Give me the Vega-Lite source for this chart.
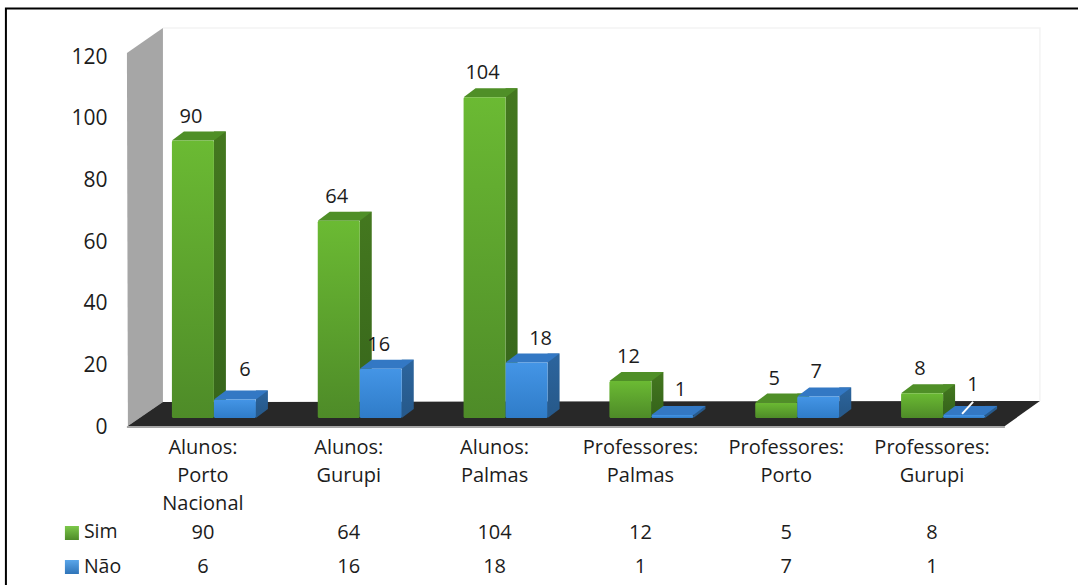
{"$schema":"https://vega.github.io/schema/vega-lite/v6.json","width":875,"height":370,"autosize":{"type":"none"},"padding":{"left":130,"top":55,"right":73,"bottom":160},"background":"#ffffff","config":{"view":{"stroke":null},"text":{"font":"Open Sans","fontSize":20,"color":"#1c1c1c"}},
"datasets":{"d":[
{"categoria":"Alunos:|Porto|Nacional","serie":"Sim","valor":90},{"categoria":"Alunos:|Porto|Nacional","serie":"Não","valor":6},
{"categoria":"Alunos:|Gurupi","serie":"Sim","valor":64},{"categoria":"Alunos:|Gurupi","serie":"Não","valor":16},
{"categoria":"Alunos:|Palmas","serie":"Sim","valor":104},{"categoria":"Alunos:|Palmas","serie":"Não","valor":18},
{"categoria":"Professores:|Palmas","serie":"Sim","valor":12},{"categoria":"Professores:|Palmas","serie":"Não","valor":1},
{"categoria":"Professores:|Porto","serie":"Sim","valor":5},{"categoria":"Professores:|Porto","serie":"Não","valor":7},
{"categoria":"Professores:|Gurupi","serie":"Sim","valor":8},{"categoria":"Professores:|Gurupi","serie":"Não","valor":1}]},
"data":{"name":"d"},
"encoding":{"x":{"field":"categoria","type":"nominal","sort":null,"scale":{"paddingInner":0,"paddingOuter":0},"title":null,"axis":{"labelExpr":"split(datum.label,'|')","labelAngle":0,"labelFont":"Open Sans","labelFontSize":20,"labelColor":"#1c1c1c","labelLineHeight":28,"labelPadding":12,"domain":false,"ticks":false,"labelLimit":0}},
"y":{"field":"valor","type":"quantitative","scale":{"domain":[0,120],"nice":false},"title":null,"axis":{"values":[0,20,40,60,80,100,120],"grid":false,"domain":false,"ticks":false,"labelFont":"Open Sans","labelFontSize":21,"labelColor":"#1c1c1c","labelPadding":23,"labelOffset":2}}},
"layer":[
{"transform":[{"filter":"datum.categoria=='Alunos:|Porto|Nacional' && datum.serie=='Sim'"}],"encoding":{"y":{"datum":0}},"layer":[
{"mark":{"type":"point","filled":true,"opacity":1,"size":4,"strokeWidth":0,"fill":"#a6a6a6","shape":"M-76 -372 L-40 -397 L-40 -23 L-75 1 Z"}},
{"mark":{"type":"point","filled":false,"opacity":1,"size":4,"strokeWidth":1.5,"stroke":"#f3f3f3","shape":"M-40 -397 L837 -397 L837 -24"}},
{"mark":{"type":"point","filled":true,"opacity":1,"size":4,"strokeWidth":0,"fill":"#282828","shape":"M-75 1 L-40 -23 L837 -24 L802 1 Z"}},
{"mark":{"type":"point","filled":false,"opacity":1,"size":4,"strokeWidth":2,"stroke":"#a6a6a6","shape":"M-76 2 L802 2"}},
{"mark":{"type":"point","filled":false,"opacity":1,"size":4,"strokeWidth":2,"stroke":"#000000","shape":"M-197 165 L-197 -416.5 L880 -416.5"}}
]},
{"transform":[{"filter":"datum.serie=='Sim'"}],"layer":[
{"mark":{"type":"bar","size":12,"xOffset":17,"yOffset":-16,"y2Offset":-16,"color":{"gradient":"linear","x1":0,"x2":0,"y1":0,"y2":1,"stops":[{"offset":0,"color":"#44781f"},{"offset":1,"color":"#37661b"}]}},"encoding":{"y2":{"datum":0}}},
{"mark":{"type":"point","filled":true,"opacity":1,"size":4,"strokeWidth":0,"fill":"#37661b","yOffset":-7,"shape":"M11 0 L23 -9 L11 -9 Z"},"encoding":{"y":{"datum":0}}},
{"mark":{"type":"point","filled":true,"opacity":1,"size":4,"strokeWidth":0,"fill":"#4f8f27","yOffset":-7,"shape":"M-31 0 L-19 -9 L23 -9 L11 0 Z"}},
{"mark":{"type":"bar","size":42,"xOffset":-10,"yOffset":-7,"y2Offset":-7,"cornerRadius":1.5,"color":{"gradient":"linear","x1":0,"x2":0,"y1":0,"y2":1,"stops":[{"offset":0,"color":"#6bba33"},{"offset":1,"color":"#4e8b28"}]}},"encoding":{"y2":{"datum":0}}}
]},
{"transform":[{"filter":"datum.serie=='Não'"}],"layer":[
{"mark":{"type":"bar","size":12,"xOffset":59,"yOffset":-16,"y2Offset":-16,"color":{"gradient":"linear","x1":0,"x2":0,"y1":0,"y2":1,"stops":[{"offset":0,"color":"#2c659e"},{"offset":1,"color":"#275a8c"}]}},"encoding":{"y2":{"datum":0}}},
{"mark":{"type":"point","filled":true,"opacity":1,"size":4,"strokeWidth":0,"fill":"#275a8c","yOffset":-7,"shape":"M53 0 L65 -9 L53 -9 Z"},"encoding":{"y":{"datum":0}}},
{"mark":{"type":"point","filled":true,"opacity":1,"size":4,"strokeWidth":0,"fill":"#3378c4","yOffset":-7,"shape":"M11 0 L23 -9 L65 -9 L53 0 Z"}},
{"mark":{"type":"bar","size":42,"xOffset":32,"yOffset":-7,"y2Offset":-7,"cornerRadius":1.5,"color":{"gradient":"linear","x1":0,"x2":0,"y1":0,"y2":1,"stops":[{"offset":0,"color":"#4495e6"},{"offset":1,"color":"#2f7cc8"}]}},"encoding":{"y2":{"datum":0}}}
]},
{"transform":[{"filter":"datum.categoria=='Professores:|Gurupi' && datum.serie=='Não'"}],"mark":{"type":"point","filled":false,"opacity":1,"size":4,"strokeWidth":2,"stroke":"#ffffff","shape":"M30 -8 L41 -20"}},
{"transform":[{"filter":"datum.serie=='Sim'"}],"mark":{"type":"text","xOffset":-12,"yOffset":-31},"encoding":{"text":{"field":"valor","type":"quantitative"}}},
{"transform":[{"filter":"datum.serie=='Não' && (datum.valor==16 || datum.valor==7)"}],"mark":{"type":"text","xOffset":30,"yOffset":-31},"encoding":{"text":{"field":"valor","type":"quantitative"}}},
{"transform":[{"filter":"datum.serie=='Não' && datum.valor==18"}],"mark":{"type":"text","xOffset":46,"yOffset":-31},"encoding":{"text":{"field":"valor","type":"quantitative"}}},
{"transform":[{"filter":"datum.categoria=='Professores:|Palmas' && datum.serie=='Não'"}],"mark":{"type":"text","xOffset":40,"yOffset":-32},"encoding":{"text":{"field":"valor","type":"quantitative"}}},
{"transform":[{"filter":"datum.serie=='Não' && datum.valor==6"}],"mark":{"type":"text","xOffset":42,"yOffset":-37},"encoding":{"text":{"field":"valor","type":"quantitative"}}},
{"transform":[{"filter":"datum.categoria=='Professores:|Gurupi' && datum.serie=='Não'"}],"mark":{"type":"text","xOffset":41,"yOffset":-37},"encoding":{"text":{"field":"valor","type":"quantitative"}}},
{"transform":[{"filter":"datum.serie=='Sim'"}],"mark":{"type":"text","yOffset":108},"encoding":{"y":{"datum":0},"text":{"field":"valor","type":"quantitative"}}},
{"transform":[{"filter":"datum.serie=='Não'"}],"mark":{"type":"text","yOffset":142},"encoding":{"y":{"datum":0},"text":{"field":"valor","type":"quantitative"}}},
{"transform":[{"filter":"datum.categoria=='Alunos:|Porto|Nacional' && datum.serie=='Sim'"}],"encoding":{"y":{"datum":0}},"layer":[
{"mark":{"type":"text","align":"left","xOffset":-119,"yOffset":107,"fontSize":19.5},"encoding":{"text":{"field":"serie"}}},
{"mark":{"type":"point","shape":"square","filled":true,"opacity":1,"size":196,"strokeWidth":0,"xOffset":-131,"yOffset":108,"fill":{"gradient":"linear","x1":0,"x2":0,"y1":0,"y2":1,"stops":[{"offset":0,"color":"#7cc84a"},{"offset":1,"color":"#4e8b28"}]}}}
]},
{"transform":[{"filter":"datum.categoria=='Alunos:|Porto|Nacional' && datum.serie=='Não'"}],"encoding":{"y":{"datum":0}},"layer":[
{"mark":{"type":"text","align":"left","xOffset":-119,"yOffset":142,"fontSize":19.5},"encoding":{"text":{"field":"serie"}}},
{"mark":{"type":"point","shape":"square","filled":true,"opacity":1,"size":196,"strokeWidth":0,"xOffset":-131,"yOffset":142,"fill":{"gradient":"linear","x1":0,"x2":0,"y1":0,"y2":1,"stops":[{"offset":0,"color":"#5aa6ea"},{"offset":1,"color":"#2f74b8"}]}}}
]}
]}
